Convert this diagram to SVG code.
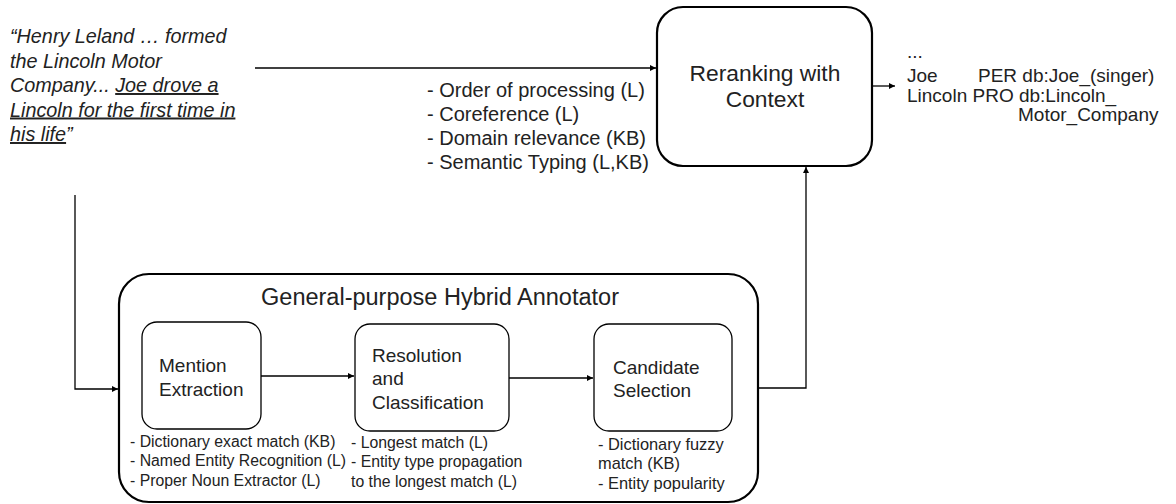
<svg xmlns="http://www.w3.org/2000/svg" width="1176" height="504" viewBox="0 0 1176 504">
<defs>
<marker id="arr" viewBox="0 0 10 10" refX="10" refY="5" markerWidth="6" markerHeight="6" orient="auto" markerUnits="userSpaceOnUse">
<path d="M0,0 L10,5 L0,10 z" fill="#000"/>
</marker>
<style>
text{font-family:"Liberation Sans",Arial,sans-serif;fill:#222;}
.q{font-size:19.8px;font-style:italic;}
.u{text-decoration:underline;}
.b20{font-size:20px;}
.b16{font-size:15.8px;}
.b16c{font-size:16.4px;}
.t19{font-size:19px;}
.big{fill:#fff;stroke:#000;stroke-width:2.2;}
.box{fill:#fff;stroke:#000;stroke-width:1.3;}
.c{fill:none;stroke:#000;stroke-width:1.3;}
</style>
</defs>
<rect width="1176" height="504" fill="#fff"/>

<g id="quote">
<text class="q" x="10" y="43">“Henry Leland … formed</text>
<text class="q" x="10" y="67.5">the Lincoln Motor</text>
<text class="q" x="10" y="92">Company... <tspan class="u">Joe drove a</tspan></text>
<text class="q" x="10" y="116.5"><tspan class="u">Lincoln for the first time in</tspan></text>
<text class="q" x="10" y="141"><tspan class="u">his life</tspan>”</text>
</g>

<g id="context-features">
<text class="b20" x="427" y="97">- Order of processing (L)</text>
<text class="b20" x="427" y="121">- Coreference (L)</text>
<text class="b20" x="427" y="145">- Domain relevance (KB)</text>
<text class="b20" x="427" y="169">- Semantic Typing (L,KB)</text>
</g>

<g id="reranking">
<rect class="big" x="657" y="7" width="215" height="159" rx="26"/>
<text x="765" y="81" font-size="22.8" text-anchor="middle">Reranking with</text>
<text x="765" y="106.5" font-size="22.8" text-anchor="middle">Context</text>
</g>

<g id="output">
<text class="t19" x="907" y="58">...</text>
<text class="t19" x="907" y="82">Joe</text>
<text class="t19" x="978" y="82">PER db:Joe_(singer)</text>
<text class="t19" x="907" y="102">Lincoln PRO db:Lincoln_</text>
<text class="t19" x="1018" y="121">Motor_Company</text>
</g>

<g id="annotator">
<rect class="big" x="119" y="274" width="639" height="228" rx="30"/>
<text x="440" y="305" font-size="23.5" text-anchor="middle">General-purpose Hybrid Annotator</text>
</g>

<g id="mention">
<rect class="box" x="142" y="322" width="119" height="107" rx="15"/>
<text class="t19" x="159" y="372">Mention</text>
<text class="t19" x="159" y="396">Extraction</text>
<text class="b16" x="130" y="446.5">- Dictionary exact match (KB)</text>
<text class="b16" x="130" y="466">- Named Entity Recognition (L)</text>
<text class="b16" x="130" y="485.5">- Proper Noun Extractor (L)</text>
</g>

<g id="resolution">
<rect class="box" x="355" y="324" width="154" height="107" rx="15"/>
<text class="t19" x="372" y="361.5">Resolution</text>
<text class="t19" x="372" y="385">and</text>
<text class="t19" x="372" y="409">Classification</text>
<text class="b16" x="351" y="447.5">- Longest match (L)</text>
<text class="b16" x="351" y="467">- Entity type propagation</text>
<text class="b16" x="351" y="487">to the longest match (L)</text>
</g>

<g id="candidate">
<rect class="box" x="594" y="324" width="138" height="107" rx="15"/>
<text class="t19" x="613" y="374">Candidate</text>
<text class="t19" x="613" y="397">Selection</text>
<text class="b16c" x="598" y="450">- Dictionary fuzzy</text>
<text class="b16c" x="598" y="469">match (KB)</text>
<text class="b16c" x="598" y="489">- Entity popularity</text>
</g>

<g id="connectors">
<path class="c" d="M255,68 H656" marker-end="url(#arr)"/>
<path class="c" d="M872,86 H895" marker-end="url(#arr)"/>
<path class="c" d="M75,195 V389 H118" marker-end="url(#arr)"/>
<path class="c" d="M261,376 H354" marker-end="url(#arr)"/>
<path class="c" d="M509,378 H593" marker-end="url(#arr)"/>
<path class="c" d="M758,388 H806 V167" marker-end="url(#arr)"/>
</g>
</svg>
